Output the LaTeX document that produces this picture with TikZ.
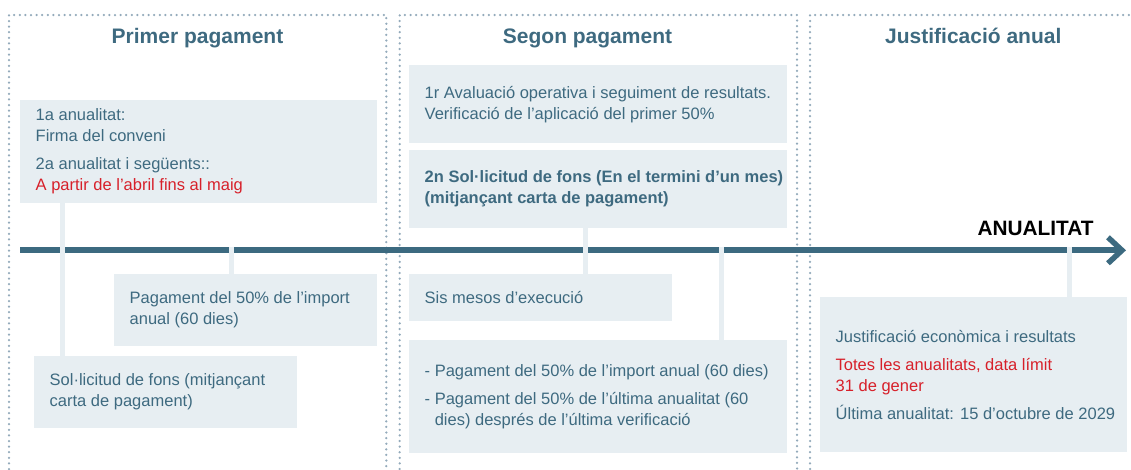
\documentclass[tikz,border=0pt]{standalone}
\usepackage{fontspec}
\setmainfont{Liberation Sans}
\usetikzlibrary{arrows.meta}

\definecolor{ink}{HTML}{3E6A80}
\definecolor{rail}{HTML}{3C6A80}
\definecolor{pale}{HTML}{E7EEF2}
\definecolor{dotc}{HTML}{93AABB}
\definecolor{alert}{HTML}{D7202A}

\begin{document}
\begin{tikzpicture}[x=1pt, y=-1pt]
    \tikzset{
        frame/.style = {dotc, line width=2.5pt, line cap=round, dash pattern=on 0pt off 5.6pt},
        paneltitle/.style = {anchor=base, text=ink, font=\fontsize{21}{24}\selectfont\bfseries},
        infobox/.style = {fill=pale, anchor=north west, inner sep=0},
        txt/.style = {anchor=west, align=left, inner sep=0, text=ink, font=\fontsize{16.5}{21}\selectfont},
        stem/.style = {pale, line width=5pt},
        timeline/.style = {rail, line width=6pt, -{Straight Barb[length=14pt, width=26pt, line width=5.5pt]}}
    }
    \useasboundingbox (0,0) rectangle (1131,469);

    % panels
    \draw [frame] (9,469) |- (386.3,15) -- (386.3,469);
    \draw [frame] (399.7,469) |- (797,15) -- (797,469);
    \draw [frame] (810,469) |- (1131,15);

    \node [paneltitle] (p1) at (197.5,43) {Primer pagament};
    \node [paneltitle] (p2) at (587.5,43) {Segon pagament};
    \node [paneltitle] (p3) at (973.3,43) {Justificació anual};

    % boxes
    \node [infobox, minimum width=357pt, minimum height=103pt] (firma) at (20,100) {};
    \node [infobox, minimum width=263pt, minimum height=72pt] (pag1) at (114,274) {};
    \node [infobox, minimum width=263pt, minimum height=72pt] (sol1) at (34,356) {};

    \node [infobox, minimum width=378pt, minimum height=78pt] (aval) at (409,65) {};
    \node [infobox, minimum width=378pt, minimum height=78pt] (sol2) at (409,150) {};
    \node [infobox, minimum width=263pt, minimum height=47pt] (sis) at (409,274) {};
    \node [infobox, minimum width=378pt, minimum height=113pt] (pag2) at (409,340) {};

    \node [infobox, minimum width=307pt, minimum height=155pt] (just) at (820,297) {};

    % timeline
    \draw [timeline] (20,250.3) -- (1126,250.3);
    \node [anchor=base east, font=\fontsize{20.8}{24}\selectfont\bfseries] (anual) at (1097,235) {ANUALITAT};

    \coordinate (t1) at (62.5,247.3);
    \coordinate (t2) at (231.5,247.3);
    \coordinate (t3) at (585.5,247.3);
    \coordinate (t4) at (721.5,247.3);
    \coordinate (t5) at (1069,247.3);

    \draw [stem] (t1 |- firma.south) -- (t1 |- sol1.north);
    \draw [stem] (t2) -- (t2 |- pag1.north);
    \draw [stem] (t3 |- sol2.south) -- (t3 |- sis.north);
    \draw [stem] (t4) -- (t4 |- pag2.north);
    \draw [stem] (t5) -- (t5 |- just.north);

    % texts
    \node [txt] (firmat) at ([xshift=15.5pt]firma.west) {1a anualitat:\\
        Firma del conveni\\[7pt]
        2a anualitat i següents::\\
        \textcolor{alert}{A partir de l’abril fins al maig}};
    \node [txt] (pag1t) at ([xshift=15.5pt]pag1.west) {Pagament del 50\% de l’import\\ anual (60 dies)};
    \node [txt] (sol1t) at ([xshift=15.5pt]sol1.west) {Sol·licitud de fons (mitjançant\\ carta de pagament)};

    \node [txt] (avalt) at ([xshift=15.5pt]aval.west) {1r Avaluació operativa i seguiment de resultats.\\
        Verificació de l’aplicació del primer 50\%};
    \node [txt, font=\fontsize{16.5}{21}\selectfont\bfseries] (sol2t) at ([xshift=15.5pt]sol2.west) {2n Sol·licitud de fons (En el termini d’un mes)\\
        (mitjançant carta de pagament)};
    \node [txt] (sist) at ([xshift=15.5pt]sis.west) {Sis mesos d’execució};
    \node [txt] (pag2t) at ([xshift=15.5pt]pag2.west) {- Pagament del 50\% de l’import anual (60 dies)\\[7pt]
        - Pagament del 50\% de l’última anualitat (60\\
        \hphantom{- }dies) després de l’última verificació};

    \node [txt] (justt) at ([xshift=15.5pt]just.west) {Justificació econòmica i resultats\\[7pt]
        \textcolor{alert}{Totes les anualitats, data límit}\\
        \textcolor{alert}{31 de gener}\\[7pt]
        Última anualitat: 15 d’octubre de 2029};
\end{tikzpicture}
\end{document}
